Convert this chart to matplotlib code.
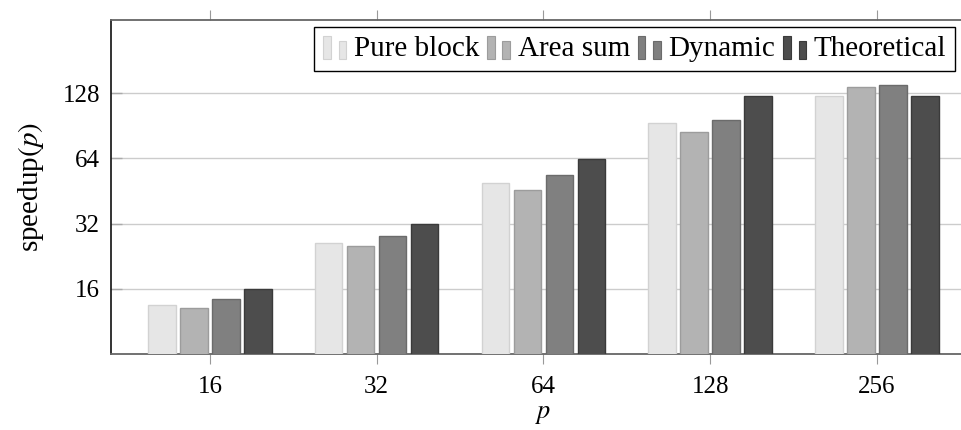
import matplotlib
matplotlib.use("Agg")
import matplotlib.pyplot as plt
import matplotlib.patches as mpatches
from matplotlib.legend_handler import HandlerBase
import numpy as np

plt.rcParams["font.family"] = ["Liberation Serif", "DejaVu Serif"]
plt.rcParams["mathtext.fontset"] = "stix"

# --- data ---
procs = ["16", "32", "64", "128", "256"]
series = ["Pure block", "Area sum", "Dynamic", "Theoretical"]
pure_block = [13.4, 26.0, 49.3, 92.9, 123.8]
area_sum = [13.0, 25.2, 45.6, 84.7, 136.2]
dynamic = [14.3, 28.0, 53.8, 96.2, 139.5]
theoretical = [16.0, 32.0, 63.8, 123.8, 123.8]

fills = ["#e6e6e6", "#b3b3b3", "#808080", "#4d4d4d"]
edges = ["#d2d2d2", "#9c9c9c", "#6b6b6b", "#3a3a3a"]


class TwoBarHandler(HandlerBase):
    # pgfplots style legend image: two small bars
    def create_artists(self, legend, orig_handle, xdescent, ydescent,
                       width, height, fontsize, trans):
        fc = orig_handle.get_facecolor()
        ec = orig_handle.get_edgecolor()
        bw = width * 0.33
        y0 = -ydescent - height * 0.12
        r1 = mpatches.Rectangle((-xdescent, y0), bw, height * 1.13,
                                facecolor=fc, edgecolor=ec, lw=0.8, transform=trans)
        r2 = mpatches.Rectangle((-xdescent + width * 0.67, y0), bw, height * 0.87,
                                facecolor=fc, edgecolor=ec, lw=0.8, transform=trans)
        return [r1, r2]


fig = plt.figure(figsize=(9.61, 4.30), dpi=100)
ax = fig.add_axes([0.1155, 0.1767, 0.900, 0.7767])

x = np.arange(len(procs))
step = 0.192
width = 0.164
handles = []
for i, vals in enumerate([pure_block, area_sum, dynamic, theoretical]):
    b = ax.bar(x + (i - 1.5) * step, vals, width, color=fills[i],
               edgecolor=edges[i], linewidth=1.0, label=series[i], zorder=3)
    handles.append(b.patches[0])

ax.set_yscale("log", base=2)
ax.set_ylim(8, 278)
ax.set_xlim(-0.594, len(procs) - 1 + 0.594)
ax.set_yticks([16, 32, 64, 128])
ax.set_yticklabels(["16", "32", "64", "128"])
ax.yaxis.set_minor_locator(matplotlib.ticker.NullLocator())
ax.set_xticks(x)
ax.set_xticklabels(procs)

ax.grid(axis="y", color="#cccccc", linewidth=1.0, zorder=0)
ax.tick_params(axis="x", which="major", direction="out", length=7.5, width=0.8,
               color="#999999", top=True, labelsize=18, pad=8)
ax.tick_params(axis="y", which="major", direction="in", length=8, width=1.0,
               color="#aaaaaa", labelsize=18, pad=8)

for s in ["top", "bottom"]:
    ax.spines[s].set_color("#666666")
    ax.spines[s].set_linewidth(1.3)
ax.spines["left"].set_color("#111111")
ax.spines["left"].set_linewidth(1.2)
ax.spines["right"].set_visible(False)

ax.set_xlabel("$p$", fontsize=19, labelpad=5)
ax.set_ylabel("speedup$(p)$", fontsize=21, labelpad=12)

leg = fig.legend(handles, series, loc="upper right", ncol=4, fontsize=21,
                 handler_map={mpatches.Rectangle: TwoBarHandler()},
                 handlelength=0.79, handleheight=0.7, handletextpad=0.26,
                 columnspacing=0.27, borderpad=0.3, borderaxespad=0.0,
                 frameon=True, fancybox=False, framealpha=1.0,
                 bbox_to_anchor=(955 / 961, 1 - 27 / 430))
leg.get_frame().set_edgecolor("black")
leg.get_frame().set_linewidth(1.0)

fig.savefig("out.png", dpi=100)
